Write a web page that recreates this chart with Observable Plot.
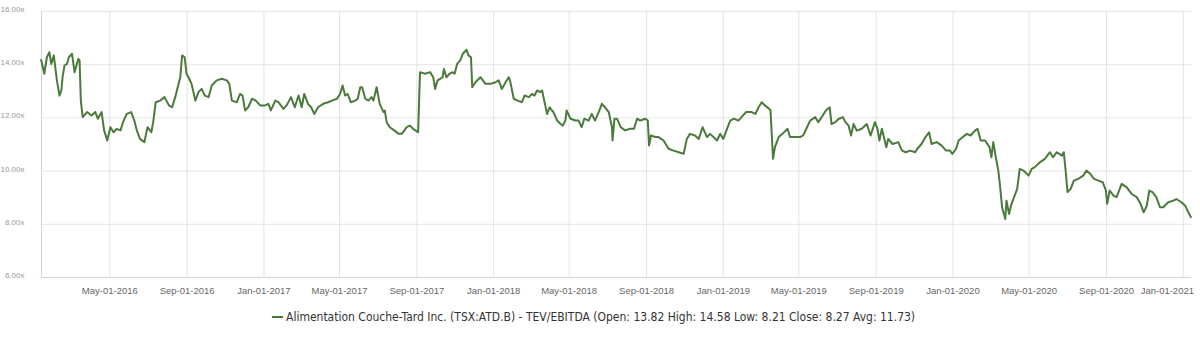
<!DOCTYPE html>
<html><head><meta charset="utf-8">
<script src="https://cdn.jsdelivr.net/npm/d3@7"></script>
<script src="https://cdn.jsdelivr.net/npm/@observablehq/plot@0.6"></script>
<style>
body{margin:0;background:#fff;font-family:"Liberation Sans",Arial,sans-serif;}
#chart{position:relative;width:1200px;height:343px;overflow:hidden;}
#legend{position:absolute;left:272px;top:309px;height:16px;display:flex;align-items:center;font-family:"DejaVu Sans Condensed","Liberation Sans Narrow",sans-serif;font-size:12px;color:#333;white-space:nowrap;}
#legend .sw{width:11px;height:2px;margin-right:3px;}
</style></head><body><div id="chart"></div>
<script>
const dates = [
"2016-01-13","2016-01-18","2016-01-22","2016-01-26","2016-01-29","2016-02-02","2016-02-04","2016-02-07","2016-02-11","2016-02-14",
"2016-02-16","2016-02-19","2016-02-23","2016-02-26","2016-03-02","2016-03-06","2016-03-12","2016-03-14","2016-03-16","2016-03-19",
"2016-03-26","2016-04-02","2016-04-08","2016-04-12","2016-04-18","2016-04-22","2016-04-27","2016-05-02","2016-05-07","2016-05-12",
"2016-05-18","2016-05-23","2016-05-28","2016-06-04","2016-06-09","2016-06-13","2016-06-18","2016-06-25","2016-06-30","2016-07-06",
"2016-07-09","2016-07-13","2016-07-20","2016-07-27","2016-08-03","2016-08-08","2016-08-13","2016-08-17","2016-08-21","2016-08-24",
"2016-08-28","2016-08-31","2016-09-03","2016-09-08","2016-09-14","2016-09-19","2016-09-24","2016-09-29","2016-10-05","2016-10-10",
"2016-10-18","2016-10-26","2016-11-03","2016-11-07","2016-11-11","2016-11-19","2016-11-24","2016-11-28","2016-12-02","2016-12-07",
"2016-12-13","2016-12-19","2016-12-26","2017-01-03","2017-01-08","2017-01-12","2017-01-19","2017-01-24","2017-02-01","2017-02-06",
"2017-02-13","2017-02-19","2017-02-25","2017-03-02","2017-03-06","2017-03-12","2017-03-17","2017-03-22","2017-03-28","2017-04-05",
"2017-04-13","2017-04-19","2017-04-27","2017-05-02","2017-05-06","2017-05-10","2017-05-14","2017-05-19","2017-05-26","2017-05-30",
"2017-06-03","2017-06-06","2017-06-11","2017-06-16","2017-06-21","2017-06-24","2017-06-29","2017-07-04","2017-07-10","2017-07-12",
"2017-07-15","2017-07-20","2017-07-27","2017-08-03","2017-08-08","2017-08-16","2017-08-21","2017-08-26","2017-09-03","2017-09-06",
"2017-09-14","2017-09-22","2017-09-27","2017-09-30","2017-10-04","2017-10-08","2017-10-12","2017-10-14","2017-10-18","2017-10-23",
"2017-10-28","2017-10-31","2017-11-04","2017-11-09","2017-11-13","2017-11-19","2017-11-22","2017-11-26","2017-11-28","2017-12-03",
"2017-12-11","2017-12-19","2017-12-27","2018-01-04","2018-01-09","2018-01-14","2018-01-20","2018-01-25","2018-01-27","2018-02-02",
"2018-02-08","2018-02-15","2018-02-19","2018-02-26","2018-03-03","2018-03-07","2018-03-11","2018-03-16","2018-03-19","2018-03-24",
"2018-03-27","2018-03-31","2018-04-06","2018-04-12","2018-04-17","2018-04-21","2018-04-25","2018-04-27","2018-05-03","2018-05-11",
"2018-05-16","2018-05-21","2018-05-25","2018-06-01","2018-06-06","2018-06-11","2018-06-17","2018-06-22","2018-06-27","2018-07-03",
"2018-07-08","2018-07-09","2018-07-12","2018-07-16","2018-07-22","2018-07-29","2018-08-06","2018-08-12","2018-08-17","2018-08-22",
"2018-08-30","2018-09-03","2018-09-05","2018-09-08","2018-09-15","2018-09-20","2018-09-28","2018-10-06","2018-10-14","2018-10-22",
"2018-10-30","2018-11-04","2018-11-09","2018-11-17","2018-11-23","2018-11-29","2018-12-06","2018-12-11","2018-12-22","2018-12-27",
"2019-01-01","2019-01-06","2019-01-12","2019-01-18","2019-01-25","2019-01-30","2019-02-06","2019-02-15","2019-02-21","2019-02-26",
"2019-03-03","2019-03-08","2019-03-15","2019-03-17","2019-03-21","2019-03-24","2019-03-30","2019-04-05","2019-04-13","2019-04-17",
"2019-04-25","2019-05-03","2019-05-08","2019-05-14","2019-05-19","2019-05-27","2019-06-01","2019-06-08","2019-06-13","2019-06-19",
"2019-06-22","2019-06-28","2019-07-03","2019-07-10","2019-07-14","2019-07-19","2019-07-23","2019-07-27","2019-08-01","2019-08-09",
"2019-08-17","2019-08-23","2019-08-30","2019-09-03","2019-09-06","2019-09-10","2019-09-17","2019-09-20","2019-09-27","2019-10-06",
"2019-10-12","2019-10-18","2019-10-25","2019-11-02","2019-11-05","2019-11-12","2019-11-18","2019-11-24","2019-11-28","2019-12-06",
"2019-12-14","2019-12-21","2019-12-27","2019-12-31","2020-01-06","2020-01-10","2020-01-16","2020-01-23","2020-01-29","2020-02-05",
"2020-02-09","2020-02-14","2020-02-21","2020-02-28","2020-03-02","2020-03-05","2020-03-09","2020-03-13","2020-03-16","2020-03-19",
"2020-03-24","2020-03-26","2020-03-30","2020-04-03","2020-04-09","2020-04-12","2020-04-16","2020-04-22","2020-04-30","2020-05-05",
"2020-05-10","2020-05-18","2020-05-26","2020-06-03","2020-06-08","2020-06-14","2020-06-22","2020-06-25","2020-06-28","2020-07-01",
"2020-07-06","2020-07-11","2020-07-18","2020-07-26","2020-07-31","2020-08-06","2020-08-12","2020-08-19","2020-08-26","2020-08-31",
"2020-09-02","2020-09-06","2020-09-12","2020-09-17","2020-09-25","2020-10-03","2020-10-11","2020-10-19","2020-10-25","2020-10-30",
"2020-11-04","2020-11-08","2020-11-13","2020-11-19","2020-11-25","2020-11-30","2020-12-08","2020-12-16","2020-12-21","2020-12-29",
"2021-01-04","2021-01-09","2021-01-13"
];
const values = [
14.18,13.66,14.28,14.47,14.03,14.35,13.97,13.41,12.84,13.03,
13.53,13.97,14.03,14.28,14.41,13.72,14.22,14.16,12.65,12.03,
12.22,12.09,12.22,11.97,12.22,11.53,11.15,11.65,11.46,11.59,
11.53,11.90,12.15,12.22,11.90,11.53,11.21,11.09,11.65,11.46,
11.84,12.59,12.65,12.78,12.47,12.40,12.78,13.15,13.53,14.35,
14.28,13.66,13.53,13.28,12.65,12.97,13.09,12.84,12.78,13.22,
13.41,13.47,13.41,13.28,12.65,12.59,12.90,12.84,12.28,12.40,
12.72,12.65,12.47,12.47,12.53,12.28,12.65,12.59,12.34,12.47,
12.78,12.40,12.84,12.40,12.90,12.53,12.40,12.15,12.40,12.53,
12.59,12.65,12.72,12.90,13.22,12.84,12.90,12.59,12.65,12.72,
13.15,13.15,12.72,12.65,12.78,12.65,13.15,12.53,12.22,12.28,
11.84,11.65,11.53,11.40,11.40,11.65,11.71,11.59,11.46,13.72,
13.66,13.72,13.53,13.09,13.41,13.47,13.53,13.84,13.53,13.66,
13.72,13.66,14.03,14.16,14.41,14.56,14.35,14.28,13.15,13.34,
13.53,13.28,13.28,13.34,13.41,13.09,13.34,13.53,13.41,12.72,
12.65,12.59,12.84,12.78,12.90,12.84,13.03,12.97,13.03,12.47,
12.15,12.40,12.22,11.90,11.78,11.71,11.90,12.28,11.97,11.90,
11.90,11.65,11.97,11.90,12.15,11.90,12.22,12.53,12.40,12.22,
11.65,11.15,11.97,11.97,11.65,11.53,11.59,11.59,11.97,11.90,
11.97,11.90,10.96,11.34,11.28,11.28,11.15,10.84,10.77,10.71,
10.65,11.21,11.40,11.34,11.21,11.65,11.28,11.40,11.15,11.40,
11.21,11.53,11.90,11.97,11.90,12.03,12.22,12.22,12.15,12.40,
12.59,12.47,12.34,12.28,10.46,10.90,11.28,11.40,11.59,11.28,
11.28,11.28,11.34,11.65,11.90,12.03,11.84,12.09,12.28,12.40,
11.77,11.84,11.96,12.03,11.84,11.71,11.34,11.77,11.52,11.59,
11.77,11.34,11.84,11.59,11.15,11.59,10.90,11.21,11.02,11.09,
10.77,10.71,10.77,10.71,10.83,11.02,11.27,11.46,11.02,11.09,
10.96,10.77,10.77,10.65,10.84,11.15,11.27,11.40,11.34,11.52,
11.59,11.15,11.15,10.90,10.52,11.09,10.52,10.02,9.39,8.64,
8.20,8.89,8.39,8.77,9.14,9.33,10.08,10.02,9.83,10.08,
10.15,10.33,10.46,10.71,10.52,10.71,10.58,10.71,10.02,9.21,
9.33,9.64,9.71,9.83,10.02,9.90,9.71,9.64,9.58,9.27,
8.77,9.27,9.08,9.02,9.52,9.39,9.14,9.02,8.77,8.45,
8.70,9.27,9.21,9.02,8.64,8.64,8.83,8.89,8.95,8.83,
8.70,8.45,8.27
];
const yTicks = [6, 8, 10, 12, 14, 16];
const xTicks = ["2016-05-01","2016-09-01","2017-01-01","2017-05-01","2017-09-01","2018-01-01","2018-05-01","2018-09-01","2019-01-01","2019-05-01","2019-09-01","2020-01-01","2020-05-01","2020-09-01","2021-01-01"];
const xDomain = ["2016-01-13T12:00:00Z", "2021-01-14T00:00:00Z"];
const legendLabel = "Alimentation Couche-Tard Inc. (TSX:ATD.B) - TEV/EBITDA (Open: 13.82 High: 14.58 Low: 8.21 Close: 8.27 Avg: 11.73)";
const lineColor = "#4a7a3c";

const data = dates.map((d, i) => ({date: new Date(d + "T00:00:00Z"), value: values[i]}));
const xt = xTicks.map(d => new Date(d + "T00:00:00Z"));
const dom = xDomain.map(d => new Date(d));
const fmt = d3.utcFormat("%b-%d-%Y");

const plot = Plot.plot({
  width: 1200, height: 300,
  marginTop: 11, marginBottom: 23, marginLeft: 41, marginRight: 9,
  style: {background: "#fff", fontFamily: "'Liberation Sans', Arial, sans-serif", overflow: "visible"},
  x: {type: "utc", domain: dom, label: null},
  y: {domain: [6, 16], label: null},
  marks: [
    Plot.gridY(yTicks, {stroke: "#e6e6e6", strokeOpacity: 1}),
    Plot.gridX(xt, {stroke: "#e3e3e3", strokeOpacity: 1}),
    Plot.ruleX([dom[0]], {stroke: "#ccd6eb"}),
    Plot.ruleY([6], {stroke: "#ccd6eb"}),
    Plot.lineY(data, {x: "date", y: "value", stroke: lineColor, strokeWidth: 2}),
    Plot.axisX(xt.slice(0, -1), {tickSize: 0, tickPadding: 10, tickFormat: fmt, fontSize: 9.5, fill: "#666"}),
    Plot.axisX(xt.slice(-1), {tickSize: 0, tickPadding: 10, tickFormat: fmt, fontSize: 9.5, fill: "#666", dx: -16}),
    Plot.axisY(yTicks, {tickSize: 0, tickPadding: 17, tickFormat: d => d.toFixed(2) + "x", fontSize: 8, fill: "#999", dy: -2})
  ]
});
const chart = document.getElementById("chart");
chart.appendChild(plot);
const leg = document.createElement("div");
leg.id = "legend";
const sw = document.createElement("span");
sw.className = "sw";
sw.style.background = lineColor;
const tx = document.createElement("span");
tx.textContent = legendLabel;
leg.appendChild(sw);
leg.appendChild(tx);
chart.appendChild(leg);
</script>
</body></html>
